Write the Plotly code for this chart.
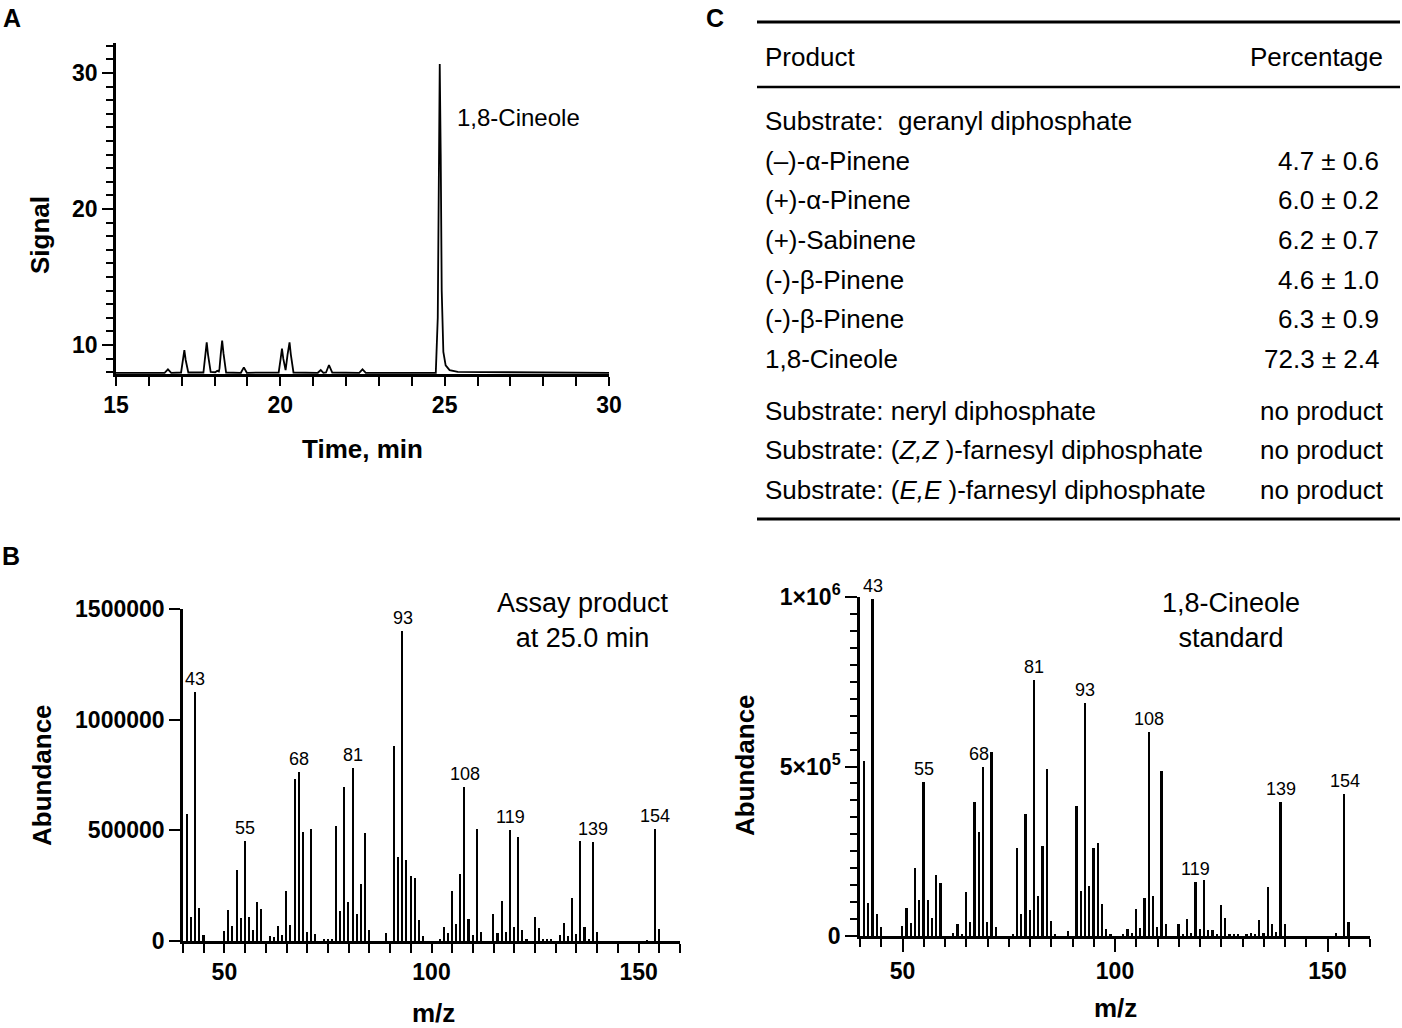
import plotly.graph_objects as go

# ---- panel A: GC trace ----
gc_time = [15.0, 16.48, 16.58, 16.68, 16.98, 17.04, 17.08, 17.12, 17.20,
           17.66, 17.72, 17.76, 17.80, 17.88, 18.02, 18.08, 18.13, 18.15,
           18.19, 18.23, 18.27, 18.35, 18.80, 18.89, 18.98, 19.95, 20.01,
           20.05, 20.09, 20.16, 20.22, 20.28, 20.32, 20.40, 21.14, 21.23,
           21.31, 21.39, 21.48, 21.58, 22.40, 22.50, 22.60, 24.73, 24.79,
           24.82, 24.85, 24.88, 24.91, 24.96, 25.03, 25.15, 25.40, 30.0]
gc_signal = [7.96, 7.96, 8.21, 7.96, 7.98, 8.90, 9.63, 8.90, 7.98,
             7.98, 9.30, 10.20, 9.30, 8.02, 8.00, 8.10, 8.05, 8.30,
             9.40, 10.32, 9.40, 7.98, 7.96, 8.36, 7.96, 7.98, 9.00,
             9.73, 9.00, 8.15, 9.30, 10.20, 9.30, 7.98, 7.96, 8.16,
             7.96, 7.98, 8.53, 7.98, 7.96, 8.21, 7.96, 7.96, 12.0,
             24.0, 30.66, 24.0, 14.0, 9.5, 8.5, 8.15, 8.02, 7.96]

# ---- panel B: mass spectra ----
mz_assay = [41, 42, 43, 44, 45, 50, 51, 52, 53, 54, 55, 56, 57, 58, 59,
            61, 62, 63, 64, 65, 66, 67, 68, 69, 70, 71, 72, 74, 75, 76,
            77, 78, 79, 80, 81, 82, 83, 84, 85, 89, 91, 92, 93, 94, 95,
            96, 97, 98, 102, 103, 104, 105, 106, 107, 108, 109, 110, 111,
            112, 115, 116, 117, 118, 119, 120, 121, 122, 123, 125, 126,
            127, 128, 129, 131, 132, 133, 134, 135, 136, 137, 138, 139,
            140, 152, 154, 155]
ab_assay = [572000, 110000, 1126000, 149000, 27000, 47000, 140000, 68000,
            321000, 105000, 453000, 107000, 50000, 178000, 143000,
            22000, 20000, 68000, 26000, 227000, 74000, 732000, 765000,
            491000, 42000, 505000, 32000, 5000, 6000, 10000,
            521000, 135000, 697000, 178000, 783000, 122000, 256000,
            486000, 50000, 38000, 882000, 381000, 1400000, 366000, 295000,
            283000, 95000, 22000, 8000, 65000, 35000, 227000, 77000,
            303000, 694000, 98000, 27000, 507000,
            41000, 122000, 35000, 182000, 41000, 501000, 65000, 471000,
            50000, 8000, 107000, 59000,
            6000, 8000, 6000, 27000, 80000, 22000, 193000, 32000, 452000,
            65000, 5000, 447000,
            42000, 4000, 505000, 53000]

mz_std = [41, 42, 43, 44, 45, 50, 51, 52, 53, 54, 55, 56, 57, 58, 59,
          62, 63, 64, 65, 66, 67, 68, 69, 70, 71, 72, 76, 77, 78, 79,
          80, 81, 82, 83, 84, 85, 86, 89, 91, 92, 93, 94, 95, 96, 97,
          98, 99, 102, 103, 104, 105, 106, 107, 108, 109, 110, 111, 112,
          115, 116, 117, 118, 119, 120, 121, 122, 123, 124, 125, 126,
          127, 128, 129, 131, 132, 133, 134, 135, 136, 137, 138, 139,
          140, 152, 154, 155]
ab_std = [515000, 96000, 995000, 64000, 27000, 29000, 84000, 39000,
          202000, 105000, 455000, 105000, 53000, 181000, 157000,
          9000, 35000, 7000, 130000, 41000, 396000, 308000, 500000,
          40000, 542000, 28000, 4000, 261000, 64000, 360000,
          78000, 754000, 118000, 265000, 493000, 43000, 4000, 14000,
          384000, 132000, 688000, 148000, 261000, 275000, 94000,
          20000, 5000, 4000, 22000, 10000, 79000, 25000, 113000, 601000,
          118000, 26000, 487000, 36000,
          34000, 7000, 49000, 10000, 158000, 22000, 165000, 17000, 17000,
          7000, 91000, 54000,
          4000, 4000, 4000, 4000, 10000, 5000, 48000, 9000, 145000, 36000,
          12000, 396000,
          34000, 8000, 420000, 41000]

peak_labels = [43, 55, 68, 81, 93, 108, 119, 139, 154]

# ---- panel C: product table ----
table_header = ["Product", "Percentage"]
table_rows = [
    ("Substrate:  geranyl diphosphate", ""),
    ("(–)-α-Pinene", "4.7 ± 0.6"),
    ("(+)-α-Pinene", "6.0 ± 0.2"),
    ("(+)-Sabinene", "6.2 ± 0.7"),
    ("(-)-β-Pinene", "4.6 ± 1.0"),
    ("(-)-β-Pinene", "6.3 ± 0.9"),
    ("1,8-Cineole", "72.3 ± 2.4"),
    ("Substrate: neryl diphosphate", "no product"),
    ("Substrate: (<i>Z,Z</i> )-farnesyl diphosphate", "no product"),
    ("Substrate: (<i>E,E</i> )-farnesyl diphosphate", "no product"),
]

W, H = 1402, 1028
FONT = "Liberation Sans, Arial, sans-serif"


def px(x):
    return x / W


def py(y):
    return 1 - y / H


tickfont = dict(family=FONT, size=23, color="black", weight="bold")

fig = go.Figure()

fig.add_trace(go.Scatter(x=gc_time, y=gc_signal, mode="lines",
                         line=dict(color="black", width=1.8),
                         xaxis="x", yaxis="y", showlegend=False))
fig.add_trace(go.Bar(x=mz_assay, y=ab_assay, width=0.38,
                     marker=dict(color="black", line=dict(width=0)),
                     xaxis="x2", yaxis="y2", showlegend=False))
fig.add_trace(go.Bar(x=mz_std, y=ab_std, width=0.38,
                     marker=dict(color="black", line=dict(width=0)),
                     xaxis="x3", yaxis="y3", showlegend=False))

axis_common = dict(showline=True, linecolor="black", linewidth=2.6,
                   ticks="outside", tickcolor="black", tickwidth=2.4,
                   showgrid=False, zeroline=False, tickfont=tickfont,
                   fixedrange=True, automargin=False)

fig.update_layout(
    template="none",
    width=W, height=H,
    margin=dict(l=0, r=0, t=0, b=0, pad=0, autoexpand=False),
    paper_bgcolor="white", plot_bgcolor="white",
    bargap=0,
    font=dict(family=FONT, color="black"),
    xaxis=dict(axis_common, domain=[px(116), px(609)], range=[15, 30],
               tickvals=[15, 20, 25, 30], ticklen=9, anchor="y",
               minor=dict(ticks="outside", ticklen=9, tickwidth=2.4,
                          tickcolor="black", tick0=15, dtick=1,
                          showgrid=False)),
    yaxis=dict(axis_common, domain=[py(374), py(43)], range=[7.87, 32.2],
               tickvals=[10, 20, 30], ticklen=11, anchor="x",
               minor=dict(ticks="outside", ticklen=7, tickwidth=2.4,
                          tickcolor="black", tick0=0, dtick=1,
                          showgrid=False)),
    xaxis2=dict(axis_common, domain=[px(183), px(680)], range=[40, 160],
                tickvals=[50, 100, 150], ticklen=9, anchor="y2",
                minor=dict(ticks="outside", ticklen=9, tickwidth=2.4,
                           tickcolor="black", tick0=40, dtick=5,
                           showgrid=False)),
    yaxis2=dict(axis_common, domain=[py(941), py(609)], range=[0, 1500000],
                tickvals=[0, 500000, 1000000, 1500000],
                ticktext=["0", "500000", "1000000", "1500000"],
                ticklen=11, anchor="x2"),
    xaxis3=dict(axis_common, domain=[px(860), px(1370)], range=[40, 160],
                tickvals=[50, 100, 150], ticklen=13, anchor="y3",
                minor=dict(ticks="outside", ticklen=8, tickwidth=2.4,
                           tickcolor="black", tick0=40, dtick=5,
                           showgrid=False)),
    yaxis3=dict(axis_common, domain=[py(936), py(597)], range=[0, 1000000],
                tickvals=[0, 500000, 1000000],
                ticktext=["0", "5×10<sup>5</sup>", "1×10<sup>6</sup>"],
                ticklen=12, anchor="x3",
                minor=dict(ticks="outside", ticklen=7, tickwidth=2.4,
                           tickcolor="black", tick0=0, dtick=50000,
                           showgrid=False)),
)

ann = []


def text(x, y, s, size, bold=False, xanchor="center", yanchor="middle",
         angle=0, align="center"):
    ann.append(dict(x=px(x), y=py(y), xref="paper", yref="paper", text=s,
                    showarrow=False, xanchor=xanchor, yanchor=yanchor,
                    textangle=angle, align=align,
                    font=dict(family=FONT, size=size, color="black",
                              weight="bold" if bold else "normal")))


# panel letters
text(12, 18, "A", 25, bold=True)
text(11, 556, "B", 25, bold=True)
text(715, 18, "C", 25, bold=True)

# axis titles
text(40, 235, "Signal", 26, bold=True, angle=-90)
text(362, 449, "Time, min", 26, bold=True)
text(42, 775, "Abundance", 26, bold=True, angle=-90)
text(433, 1013, "m/z", 26, bold=True)
text(745, 765, "Abundance", 26, bold=True, angle=-90)
text(1115, 1008, "m/z", 26, bold=True)

# in-plot captions
text(455, 117, "1,8-Cineole", 24, xanchor="left")
text(583, 620, "Assay product<br>at 25.0 min", 27)
text(1231, 620, "1,8-Cineole<br>standard", 27)

# peak labels on spectra
for mzs, abs_, xa, ya in [(mz_assay, ab_assay, "x2", "y2"),
                          (mz_std, ab_std, "x3", "y3")]:
    lookup = dict(zip(mzs, abs_))
    for m in peak_labels:
        top = max(lookup.get(k, 0) for k in (m - 1, m, m + 1))
        ann.append(dict(x=m, y=top, xref=xa, yref=ya, text=str(m),
                        showarrow=False, xanchor="center", yanchor="bottom",
                        yshift=1,
                        font=dict(family=FONT, size=18, color="black")))

# table
text(763, 57, table_header[0], 26, xanchor="left")
text(1385, 57, table_header[1], 26, xanchor="right")
row_y = [121, 161, 200, 240, 280, 319, 359, 411, 450, 490]
for (name, val), y in zip(table_rows, row_y):
    text(763, y, name, 26, xanchor="left")
    if val:
        right = 1386 if val == "no product" else 1381
        text(right, y, val, 26, xanchor="right")

shapes = []
for y, w in [(22, 3), (87, 2.5), (519, 3)]:
    shapes.append(dict(type="line", xref="paper", yref="paper",
                       x0=px(757), x1=px(1400), y0=py(y), y1=py(y),
                       line=dict(color="black", width=w)))

fig.update_layout(annotations=ann, shapes=shapes)

fig.write_html("out.html",
               config={"displayModeBar": False},
               post_script="document.body.style.margin='0';"
                           "document.body.style.overflow='hidden';")
